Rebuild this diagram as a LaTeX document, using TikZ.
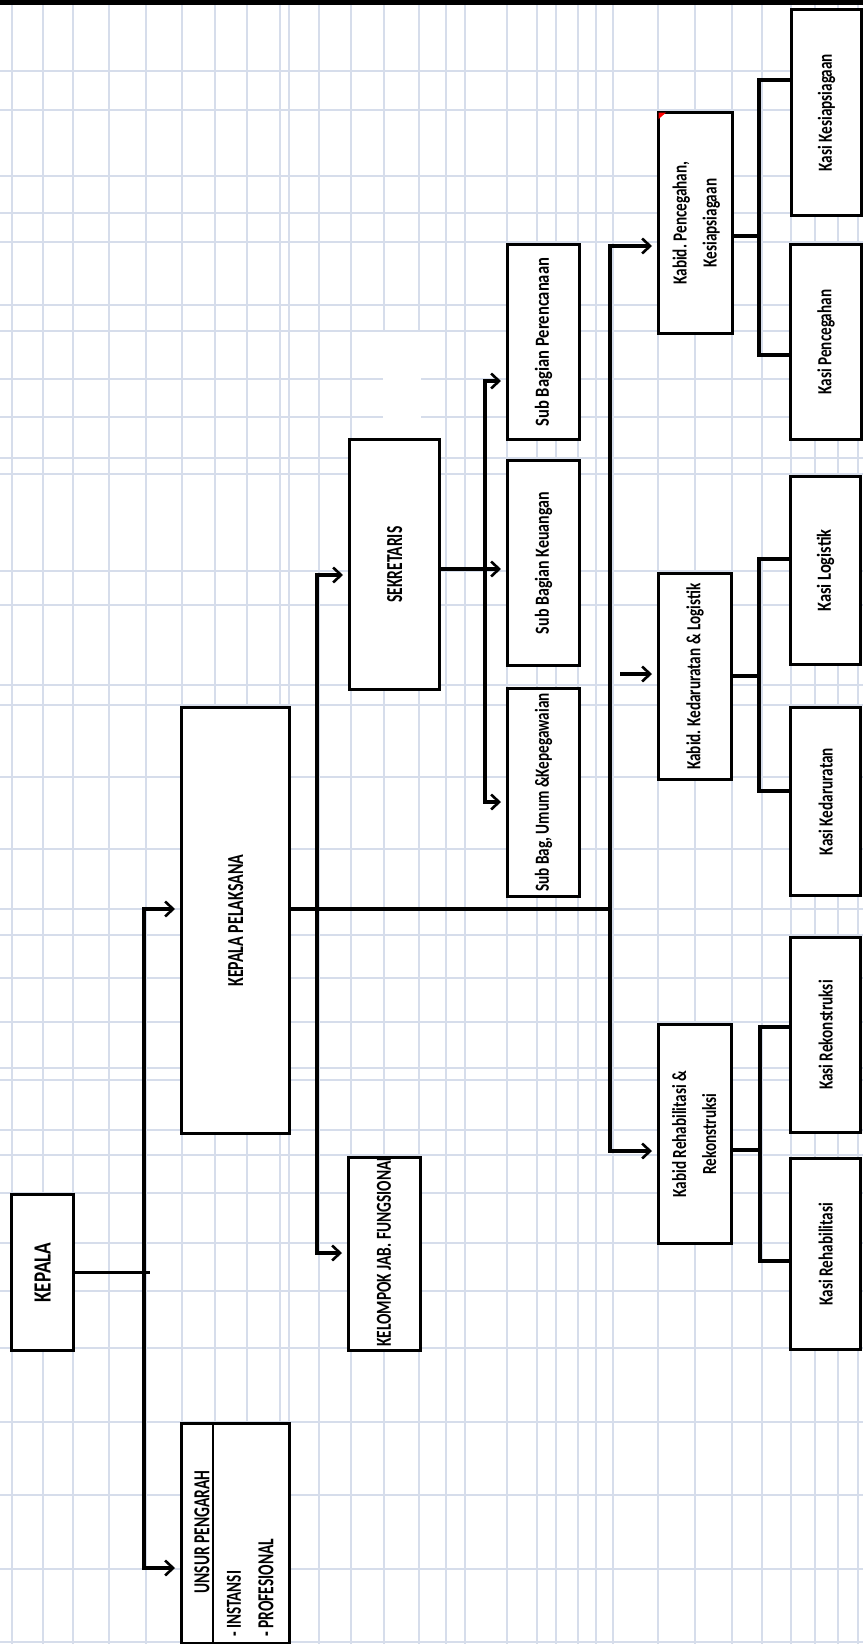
\documentclass[tikz,border=0pt]{standalone}
\usepackage{fontspec}
\setmainfont{Carlito}[FakeStretch=0.76]
\usetikzlibrary{arrows.meta}
\definecolor{gridc}{HTML}{D6DDEB}
\frenchspacing
\newcommand\rt[1]{\rotatebox{90}{#1}}
\newcommand\capf{\fontsize{22}{26}\selectfont\bfseries}
\newcommand\lowf{\fontsize{20}{30}\selectfont\bfseries}
\newcommand\fitt[3]{\resizebox{#1pt}{#2pt}{\capf #3}}
\begin{document}
\begin{tikzpicture}[x=1pt,y=-1pt,
  bx/.style={draw=black, line width=3.2pt, fill=white, inner sep=0pt, anchor=north west},
  ln/.style={line width=3.2pt, line join=miter},
  arr/.style={line width=3.2pt, line join=miter, shorten >=5pt, -{Straight Barb[length=8pt,width=15pt,line width=2.6pt]}},
  gl/.style={draw=gridc, line width=1.6pt}]
\useasboundingbox (0,0) rectangle (863,1644);
\fill[white] (0,0) rectangle (863,1644);
% grid
\foreach \x in {12,43,73,109,146,182,215,247,280,289,319,351,384,419,446,465,507,537,556,578,596,613,658,695,732,762,791,815,838,858}
  \draw[gl] (\x,0) -- (\x,1644);
\foreach \y in {71,110,176,213,242,305,331,379,417,458,474,571,605,685,705,777,849,909,935,978,1022,1068,1080,1130,1155,1193,1243,1291,1348,1422,1495,1569,1642}
  \draw[gl] (0,\y) -- (863,\y);
\fill[white] (382.5,332) rectangle (420.5,438);
\fill[black] (0,0) rectangle (863,5);

% boxes
\node[bx, minimum width=62pt, minimum height=156pt] (kepala) at (10,1193) {\rt{\fitt{60}{16}{KEPALA}}};
\node[bx, minimum width=108pt, minimum height=220pt] (unsur) at (180,1422) {};
\node[bx, minimum width=108pt, minimum height=426pt] (kp) at (180,706) {\rt{\fitt{132}{15}{KEPALA PELAKSANA}}};
\node[bx, minimum width=90pt, minimum height=250pt] (sek) at (348,438) {\rt{\fitt{76}{15}{SEKRETARIS}}};
\node[bx, minimum width=72pt, minimum height=193pt] (kel) at (347,1156) {};
\node[bx, minimum width=72pt, minimum height=195pt] (sp) at (506,243) {\rt{\scalebox{1.09}[1]{\lowf Sub Bagian Perencanaan}}};
\node[bx, minimum width=72pt, minimum height=205pt] (sk) at (506,459) {\rt{\scalebox{1.05}[1]{\lowf Sub Bagian Keuangan}}};
\node[bx, minimum width=72pt, minimum height=208pt] (su) at (506,687) {\rt{\lowf Sub Bag, Umum \&Kepegawaian}};
\node[bx, minimum width=74pt, minimum height=221pt] (kb1) at (657,111) {\rt{\lowf\begin{tabular}{@{}c@{}}Kabid. Pencegahan,\\Kesiapsiagaan\end{tabular}}};
\node[bx, minimum width=73pt, minimum height=206pt] (kb2) at (657,572) {\rt{\lowf Kabid. Kedaruratan \& Logistik}};
\node[bx, minimum width=73pt, minimum height=219pt] (kb3) at (657,1023) {\rt{\lowf\begin{tabular}{@{}c@{}}Kabid Rehabilitasi \&\\Rekonstruksi\end{tabular}}};
\node[bx, minimum width=70pt, minimum height=206pt] (ks1) at (790,8) {\rt{\lowf Kasi Kesiapsiagaan}};
\node[bx, minimum width=71pt, minimum height=195pt] (ks2) at (789,243) {\rt{\lowf Kasi Pencegahan}};
\node[bx, minimum width=70pt, minimum height=188pt] (ks3) at (789,475) {\rt{\scalebox{1.08}[1]{\lowf Kasi Logistik}}};
\node[bx, minimum width=70pt, minimum height=188pt] (ks4) at (789,706) {\rt{\lowf Kasi Kedaruratan}};
\node[bx, minimum width=70pt, minimum height=195pt] (ks5) at (789,936) {\rt{\lowf Kasi Rekonstruksi}};
\node[bx, minimum width=70pt, minimum height=191pt] (ks6) at (789,1157) {\rt{\lowf Kasi Rehabilitasi}};
\fill[red] (658.6,112.6) -- (666,112.6) -- (658.6,119) -- cycle;

% unsur pengarah contents
\draw[line width=2pt] (213,1422) -- (213,1642);
\node[rotate=90, inner sep=0pt] (un1) at (202,1532) {\fitt{123}{15}{UNSUR PENGARAH}};
\node[rotate=90, inner sep=0pt, anchor=west] (un2) at (234,1637) {\fitt{66}{14}{- INSTANSI}};
\node[rotate=90, inner sep=0pt, anchor=west] (un3) at (266,1637) {\fitt{98}{15}{- PROFESIONAL}};

% kelompok text clipped
\begin{scope}
\clip (348.6,1157.6) rectangle (417.4,1347.4);
\node[rotate=90, inner sep=0pt, anchor=west] (kelt) at (384,1347) {\fitt{192}{14}{KELOMPOK JAB. FUNGSIONAL}};
\end{scope}

% connectors: kepala
\coordinate (ta) at (144,909);
\coordinate (tb) at (144,1568);
\draw[ln] (kepala.east) -- (kepala.east -| 150,0);
\draw[arr] (ta) -- (tb) -- (tb -| unsur.west);
\draw[arr] (tb) -- (ta) -- (ta -| kp.west);

% kepala pelaksana horizontal
\coordinate (mt) at (610,246);
\coordinate (mb) at (610,1151);
\draw[ln] (ta -| kp.east) -- (ta -| mt);
\draw[arr] (mb) -- (mt) -- (mt -| kb1.west);
\draw[arr] (mt) -- (mb) -- (mb -| kb3.west);
\coordinate (a2) at (620,674);
\draw[arr] (a2) -- (a2 -| kb2.west);

% sekretaris / kelompok trunk
\coordinate (lt) at (317,575);
\coordinate (lb) at (317,1253);
\draw[arr] (lb) -- (lt) -- (lt -| sek.west);
\draw[arr] (lt) -- (lb) -- (lb -| kel.west);

% sekretaris to sub bagian
\coordinate (st) at (485,381);
\coordinate (sm) at (485,569);
\coordinate (sb) at (485,802);
\draw[ln] (sm -| sek.east) -- (sm);
\draw[arr] (sm) -- (sm -| sk.west);
\draw[arr] (sb) -- (st) -- (st -| sp.west);
\draw[arr] (st) -- (sb) -- (sb -| su.west);

% kabid to kasi
\coordinate (c1) at (759,236);
\coordinate (c1t) at (759,80);
\coordinate (c1b) at (759,355);
\draw[ln] (c1 -| kb1.east) -- (c1);
\draw[ln] (c1t -| ks1.west) -- (c1t) -- (c1b) -- (c1b -| ks2.west);
\coordinate (c2) at (759,676);
\coordinate (c2t) at (759,559);
\coordinate (c2b) at (759,791);
\draw[ln] (c2 -| kb2.east) -- (c2);
\draw[ln] (c2t -| ks3.west) -- (c2t) -- (c2b) -- (c2b -| ks4.west);
\coordinate (c3) at (760,1150);
\coordinate (c3t) at (760,1027);
\coordinate (c3b) at (760,1261);
\draw[ln] (c3 -| kb3.east) -- (c3);
\draw[ln] (c3t -| ks5.west) -- (c3t) -- (c3b) -- (c3b -| ks6.west);
\end{tikzpicture}
\end{document}
